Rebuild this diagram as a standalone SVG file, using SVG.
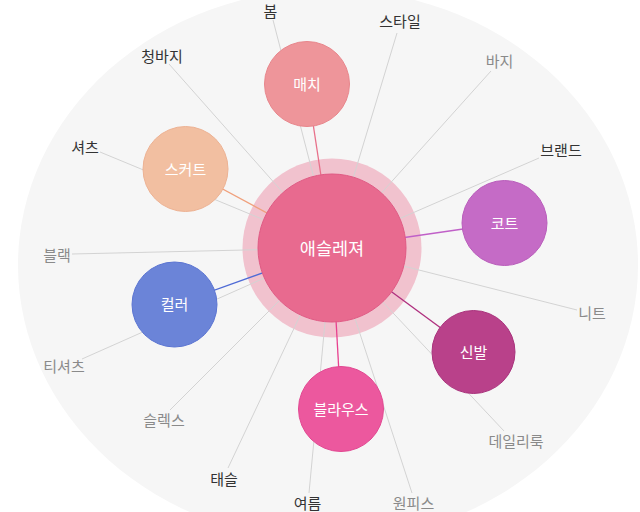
<svg xmlns="http://www.w3.org/2000/svg" width="640" height="512" viewBox="0 0 640 512">
<style>
.leaf{font-family:"Noto Sans CJK KR","Noto Sans",sans-serif;font-size:15px;text-anchor:middle}
.dark{fill:#333}
.gray{fill:#8a8a8a}
.nl{font-family:"Noto Sans CJK KR","Noto Sans",sans-serif;font-size:15px;fill:#fff;text-anchor:middle}
.g{stroke:#d3d3d3;stroke-width:1;fill:none}
.c{stroke-width:1.3;fill:none}
</style>
<rect width="640" height="512" fill="#fff"/>
<ellipse cx="328" cy="265" rx="310" ry="276" fill="#f6f6f6"/>
<circle cx="332" cy="248" r="89.5" fill="#f1c2ce"/>
<g id="connectors">
<line class="g" x1="332" y1="248" x2="273" y2="20"/>
<line class="g" x1="332" y1="248" x2="397" y2="33"/>
<line class="g" x1="332" y1="248" x2="169" y2="64"/>
<line class="g" x1="332" y1="248" x2="491" y2="71"/>
<line class="g" x1="332" y1="248" x2="539" y2="158"/>
<line class="g" x1="332" y1="248" x2="100" y2="152"/>
<line class="g" x1="332" y1="248" x2="72" y2="254"/>
<line class="g" x1="332" y1="248" x2="82" y2="359"/>
<line class="g" x1="332" y1="248" x2="577" y2="310"/>
<line class="g" x1="332" y1="248" x2="504" y2="431"/>
<line class="g" x1="332" y1="248" x2="170" y2="410"/>
<line class="g" x1="332" y1="248" x2="228" y2="468"/>
<line class="g" x1="332" y1="248" x2="309" y2="493"/>
<line class="g" x1="332" y1="248" x2="412" y2="493"/>
<line class="c" stroke="#e8708a" x1="332" y1="248" x2="307" y2="84"/>
<line class="c" stroke="#f0a07c" x1="332" y1="248" x2="185.5" y2="169"/>
<line class="c" stroke="#4f6bd6" x1="332" y1="248" x2="174.5" y2="304.5"/>
<line class="c" stroke="#c060c8" x1="332" y1="248" x2="504.5" y2="223"/>
<line class="c" stroke="#b0307f" x1="332" y1="248" x2="473.5" y2="352"/>
<line class="c" stroke="#e8418f" x1="332" y1="248" x2="341" y2="409"/>
</g>
<g id="main">
<circle cx="332" cy="248" r="74" fill="#e86a8f" stroke="#e05a84" stroke-width="1"/>
<text x="332" y="254.5" font-family="&quot;Noto Sans CJK KR&quot;,&quot;Noto Sans&quot;,sans-serif" font-size="17.5" fill="#fff" text-anchor="middle">애슬레져</text>
</g>
<g id="n-match"><circle cx="307" cy="84" r="42.5" fill="#ee959a" stroke="#e8868c"/><text class="nl" x="307" y="89.5">매치</text></g>
<g id="n-skirt"><circle cx="185.5" cy="169" r="42.5" fill="#f2bfa1" stroke="#edb293"/><text class="nl" x="185.5" y="174.5">스커트</text></g>
<g id="n-color"><circle cx="174.5" cy="304.5" r="42.5" fill="#6b84d8" stroke="#5a74d2"/><text class="nl" x="174.5" y="310">컬러</text></g>
<g id="n-coat"><circle cx="504.5" cy="223" r="42.5" fill="#c56bc6" stroke="#b95dbb"/><text class="nl" x="504.5" y="228.5">코트</text></g>
<g id="n-shoes"><circle cx="473.5" cy="352" r="41.5" fill="#b9418a" stroke="#a9327c"/><text class="nl" x="473.5" y="357.5">신발</text></g>
<g id="n-blouse"><circle cx="341" cy="409" r="42.5" fill="#ec589e" stroke="#e24892"/><text class="nl" x="341" y="414.5">블라우스</text></g>
<g id="leaves">
<text class="leaf dark" x="270.5" y="17">봄</text>
<text class="leaf dark" x="400" y="27">스타일</text>
<text class="leaf dark" x="162" y="62">청바지</text>
<text class="leaf gray" x="499.5" y="67">바지</text>
<text class="leaf dark" x="561" y="156">브랜드</text>
<text class="leaf dark" x="85" y="152.5">셔츠</text>
<text class="leaf gray" x="57" y="261">블랙</text>
<text class="leaf gray" x="64" y="372">티셔츠</text>
<text class="leaf gray" x="592" y="318.5">니트</text>
<text class="leaf gray" x="516" y="446.5">데일리룩</text>
<text class="leaf gray" x="164" y="426">슬렉스</text>
<text class="leaf dark" x="224" y="484.5">태슬</text>
<text class="leaf dark" x="307.5" y="508.5">여름</text>
<text class="leaf gray" x="413.5" y="508.5">원피스</text>
</g>
</svg>
